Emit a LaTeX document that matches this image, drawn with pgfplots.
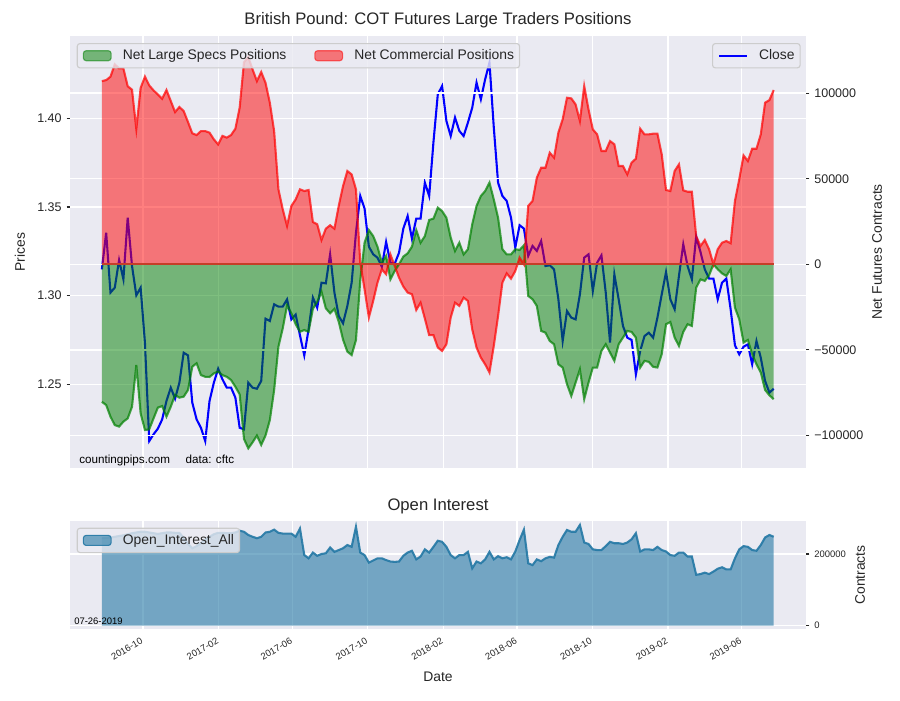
\documentclass[border=0pt]{standalone}
\usepackage{fontspec}
\setmainfont{Liberation Sans}
\usepackage{pgfplots}
\usepackage{pgfplotstable}
\pgfplotsset{compat=1.18}
\definecolor{bg}{RGB}{234,234,242}
\definecolor{txt}{RGB}{38,38,38}
\definecolor{mgreen}{RGB}{0,128,0}
\definecolor{mred}{RGB}{255,0,0}
\definecolor{mblue}{RGB}{0,0,255}
\definecolor{zeroc}{RGB}{198,62,40}
\definecolor{oic}{RGB}{36,120,165}
\definecolor{legedge}{RGB}{204,204,204}

\pgfplotstableread{
k close spec comm oi
0 1.3148 -80.3 107.0 244
1 1.3355 -82.2 107.6 245
2 1.3017 -89.0 109.6 246
3 1.3045 -93.9 116.8 248
4 1.3201 -94.8 114.4 250
5 1.3092 -91.9 114.4 252
6 1.3440 -90.0 104.0 255
7 1.3167 -83.2 102.0 258
8 1.3002 -58.8 79.0 260
9 1.3045 -87.0 103.0 262
10 1.2735 -96.8 109.6 262
11 1.2180 -96.4 104.5 260
12 1.2218 -90.0 101.6 258
13 1.2250 -83.7 99.2 256
14 1.2302 -82.8 96.7 258
15 1.2406 -89.0 101.8 260
16 1.2481 -83.2 95.4 260
17 1.2419 -76.3 88.9 259
18 1.2509 -77.9 91.9 259
19 1.2678 -77.3 89.5 245
20 1.2663 -73.4 83.1 228
21 1.2396 -59.8 76.5 216
22 1.2302 -57.8 75.5 222
23 1.2255 -64.7 77.8 230
24 1.2180 -65.7 77.8 240
25 1.2406 -65.8 76.9 248
26 1.2509 -63.7 73.0 255
27 1.2588 -62.7 70.0 259
28 1.2528 -64.7 75.0 259
29 1.2481 -65.7 74.0 258
30 1.2481 -67.6 75.5 258
31 1.2425 -71.5 79.2 260
32 1.2255 -76.0 91.5 265
33 1.2246 -102.0 118.0 262
34 1.2509 -107.5 121.0 253
35 1.2481 -104.0 113.8 248
36 1.2475 -100.0 107.0 244
37 1.2519 -105.5 112.3 248
38 1.2870 -100.0 106.0 260
39 1.2857 -91.0 94.4 262
40 1.2951 -73.4 77.8 268
41 1.2938 -48.1 43.8 259
42 1.2938 -37.4 32.1 257
43 1.2979 -24.0 22.4 257
44 1.2866 -28.6 34.1 257
45 1.2893 -35.0 37.9 248
46 1.2776 -39.4 43.8 271
47 1.2663 -38.4 42.8 197
48 1.2810 -39.4 43.4 188
49 1.2989 -26.0 24.7 204
50 1.2932 -22.0 23.4 195
51 1.3073 -16.0 14.2 200
52 1.3069 -25.7 20.8 202
53 1.3233 -28.6 22.8 218
54 1.3017 -26.0 20.8 206
55 1.2885 -33.5 34.1 211
56 1.2844 -44.0 45.7 216
57 1.2942 -51.0 54.5 225
58 1.3073 -53.0 52.5 220
59 1.3355 -44.2 43.8 276
60 1.3562 -9.2 1.0 204
61 1.3491 12.6 -14.6 197
62 1.3276 20.0 -31.1 176
63 1.3233 16.5 -21.4 182
64 1.3214 10.3 -10.7 188
65 1.3163 1.0 -2.9 188
66 1.3303 4.9 -5.8 183
67 1.3186 -8.8 5.8 179
68 1.3180 -3.9 -1.0 178
69 1.3242 0.0 -7.8 179
70 1.3378 4.5 -13.0 195
71 1.3449 6.4 -16.5 204
72 1.3321 10.3 -17.5 209
73 1.3434 20.0 -26.7 185
74 1.3434 12.6 -22.4 193
75 1.3637 16.5 -31.7 213
76 1.3562 25.9 -41.4 204
77 1.3867 26.7 -41.4 220
78 1.4135 33.1 -48.6 237
79 1.4182 31.1 -50.6 234
80 1.3985 27.2 -46.7 220
81 1.3900 15.6 -31.1 197
82 1.4004 7.8 -22.4 188
83 1.3929 12.6 -24.3 197
84 1.3900 5.8 -19.5 197
85 1.3976 8.8 -21.4 206
86 1.4060 23.4 -38.0 160
87 1.4201 34.1 -48.6 179
88 1.4107 39.9 -54.5 174
89 1.4220 42.8 -58.4 185
90 1.4314 47.7 -63.2 206
91 1.3950 37.9 -47.7 185
92 1.3637 27.2 -30.2 194
93 1.3562 8.8 -10.7 188
94 1.3534 5.8 -5.3 191
95 1.3440 5.8 -8.4 185
96 1.3271 8.8 -3.9 207
97 1.3397 8.4 3.9 239
98 1.3378 11.1 0.0 268
99 1.3224 -18.5 34.1 174
100 1.3280 -20.4 37.0 169
101 1.3252 -24.3 50.6 185
102 1.3308 -38.9 56.4 180
103 1.3167 -39.9 56.4 188
104 1.3171 -44.8 65.2 192
105 1.3148 -46.7 62.3 190
106 1.2980 -58.4 76.9 225
107 1.2744 -60.3 84.7 248
108 1.2913 -70.0 97.3 267
109 1.2876 -76.9 96.9 262
110 1.2866 -69.1 93.4 262
111 1.3007 -61.3 83.7 281
112 1.3214 -78.8 104.1 232
113 1.3233 -69.1 90.5 228
114 1.3026 -60.3 78.8 213
115 1.3186 -60.3 75.9 211
116 1.3227 -50.6 66.2 211
117 1.3017 -46.7 66.2 222
118 1.2735 -51.6 72.0 234
119 1.3120 -56.4 70.1 230
120 1.2979 -46.7 57.4 230
121 1.2829 -42.8 57.4 228
122 1.2763 -38.9 52.5 232
123 1.2750 -39.5 59.4 241
124 1.2556 -42.8 61.7 258
125 1.2688 -60.3 79.2 207
126 1.2772 -56.4 75.9 213
127 1.2791 -57.0 75.9 213
128 1.2763 -59.9 76.3 211
129 1.2876 -60.3 76.3 220
130 1.3007 -52.5 64.2 211
131 1.3133 -35.0 43.4 207
132 1.2979 -33.7 42.8 197
133 1.2923 -42.8 54.5 195
134 1.3111 -47.7 58.4 204
135 1.3289 -39.5 43.2 204
136 1.3167 -35.0 42.4 193
137 1.3092 -36.0 42.4 193
138 1.3333 -13.6 16.5 142
139 1.3246 -8.8 10.7 144
140 1.3148 -9.7 14.2 148
141 1.3096 -6.4 8.8 144
142 1.3096 0.0 0.0 151
143 1.2979 -2.9 8.8 159
144 1.3073 -5.3 12.6 163
145 1.3096 -6.8 13.6 157
146 1.2923 -2.9 12.3 157
147 1.2720 -25.3 37.0 188
148 1.2669 -32.1 49.6 213
149 1.2712 -45.7 63.6 222
150 1.2725 -44.2 60.3 220
151 1.2613 -52.5 67.5 211
152 1.2744 -58.4 67.5 209
153 1.2650 -63.2 75.9 225
154 1.2519 -73.4 94.4 246
155 1.2453 -76.5 95.9 253
156 1.2475 -78.8 101.8 248
}\data

\pgfplotsset{
  common/.style={
    scale only axis, width=529.92pt,
    xmin=-7.4, xmax=163.5,
    xtick={9.571,27.143,44.286,61.714,79.286,96.429,113.857,131.429,148.571},
    axis line style={draw=none},
    grid style={white, line width=1pt},
    tick align=outside, major tick length=2.5pt,
    xtick style={draw=none},
    ytick style={draw=txt, line width=0.8pt},
    tick label style={text=txt},
    /pgf/number format/assume math mode=true,
    label style={text=txt, font=\fontsize{10}{12}\selectfont},
    every axis title/.style={text=txt, font=\fontsize{12}{14}\selectfont, anchor=center},
    legend cell align=left,
    legend style={draw=legedge, fill=bg, fill opacity=0.8, draw opacity=1, text opacity=1,
      rounded corners=2pt, line width=0.8pt, text=txt,
      font=\fontsize{10}{12}\selectfont,
      inner xsep=4pt, inner ysep=4pt,
      nodes={inner xsep=0pt, inner ysep=0pt, text height=7.5pt, text depth=2pt},
      /tikz/every odd column/.append style={column sep=8pt},
      /tikz/every even column/.append style={column sep=20pt}},
  },
  arealeg/.style={legend image code/.code={\draw[##1] (0pt,-3.6pt) rectangle (20pt,3.6pt);}},
  lineleg/.style={legend image code/.code={\draw[##1] (0pt,0pt) -- (20pt,0pt);}},
}

\begin{document}
\begin{tikzpicture}
\path[use as bounding box] (0,0) rectangle (648pt,-504pt);

% top panel, left axis (prices)
\begin{axis}[common, at={(50.4pt,-25.92pt)}, anchor=north west, height=311.04pt,
  axis background/.style={fill=bg},
  ymin=1.2028, ymax=1.4464,
  ytick={1.25,1.30,1.35,1.40}, yticklabels={1.25,1.30,1.35,1.40},
  ytick pos=left, xmajorgrids, ymajorgrids, xticklabels={,,,,,,,,},
  yticklabel style={font=\fontsize{9}{10}\selectfont},
  ylabel={Prices}, ylabel style={at={(axis description cs:-0.0679,0.5)}, anchor=center},
  title={British Pound: COT Futures Large Traders Positions},
  title style={at={(axis description cs:0.5,1.037)}},
  legend style={at={(0.9928,0.9838)}, anchor=north east}]
\addplot[lineleg, mblue, line width=1.5pt] table[x=k,y=close]{\data};
\addlegendentry{Close}
\end{axis}

% top panel, right axis (net positions, thousands)
\begin{axis}[common, at={(50.4pt,-25.92pt)}, anchor=north west, height=311.04pt,
  ymin=-118.98, ymax=133.35,
  ytick={-100,-50,0,50,100}, yticklabels={−100000,−50000,0,50000,100000},
  ytick pos=right, yticklabel pos=right, ymajorgrids, xmajorgrids=false, xticklabels={,,,,,,,,},
  yticklabel style={font=\fontsize{9}{10}\selectfont},
  ylabel={Net Futures Contracts}, ylabel style={at={(axis description cs:1.0965,0.5)}, anchor=center},
  legend columns=2,
  legend style={at={(0.0091,0.9838)}, anchor=north west}]
\addplot[arealeg, draw=none, fill=mgreen, fill opacity=0.5,
  legend image post style={draw=mgreen, draw opacity=0.55, line width=0.8pt}]
  table[x=k,y=spec]{\data} \closedcycle;
\addlegendentry{Net Large Specs Positions}
\addplot[arealeg, draw=none, fill=mred, fill opacity=0.5,
  legend image post style={draw=mred, draw opacity=0.55, line width=0.8pt}]
  table[x=k,y=comm]{\data} \closedcycle;
\addlegendentry{Net Commercial Positions}
\addplot[forget plot, mgreen, draw opacity=0.7, line width=1.5pt] table[x=k,y=spec]{\data};
\addplot[forget plot, mred, draw opacity=0.7, line width=1.5pt] table[x=k,y=comm]{\data};
\addplot[forget plot, zeroc, line width=1.5pt] coordinates {(0,0) (156,0)};
\node[anchor=base west, inner sep=0pt, text=black, font=\fontsize{8.4}{10}\selectfont] at (rel axis cs:0.0122,0.0109) {countingpips.com\hspace*{11.3pt}data: cftc};
\end{axis}

% bottom panel (open interest, thousands)
\begin{axis}[common, at={(50.4pt,-375.12pt)}, anchor=north west, height=77.76pt,
  axis background/.style={fill=bg},
  ymin=-9.2, ymax=292,
  ytick={0,200}, yticklabels={0,200000},
  ytick pos=right, yticklabel pos=right, xmajorgrids, ymajorgrids,
  xticklabels={2016-10,2017-02,2017-06,2017-10,2018-02,2018-06,2018-10,2019-02,2019-06},
  xticklabel style={rotate=30, anchor=north east, font=\fontsize{6.8}{8}\selectfont, yshift=1.5pt},
  yticklabel style={font=\fontsize{6.8}{8}\selectfont},
  ylabel={Contracts}, ylabel style={at={(axis description cs:1.0734,0.5)}, anchor=center},
  xlabel={Date}, xlabel style={at={(axis description cs:0.5,-0.444)}, anchor=center},
  title={Open Interest}, title style={at={(axis description cs:0.5,1.139)}},
  legend style={at={(0.0091,0.938)}, anchor=north west}]
\addplot[arealeg, draw=none, fill=oic, fill opacity=0.6,
  legend image post style={draw=oic, draw opacity=0.9, line width=0.8pt}]
  table[x=k,y=oi]{\data} \closedcycle;
\addlegendentry{Open\_Interest\_All}
\addplot[forget plot, oic, draw opacity=0.9, line width=1.5pt] table[x=k,y=oi]{\data};
\node[anchor=west, inner sep=0pt, text=black, font=\fontsize{6.8}{8}\selectfont] at (rel axis cs:0.0054,0.0676) {07-26-2019};
\end{axis}
\end{tikzpicture}
\end{document}
